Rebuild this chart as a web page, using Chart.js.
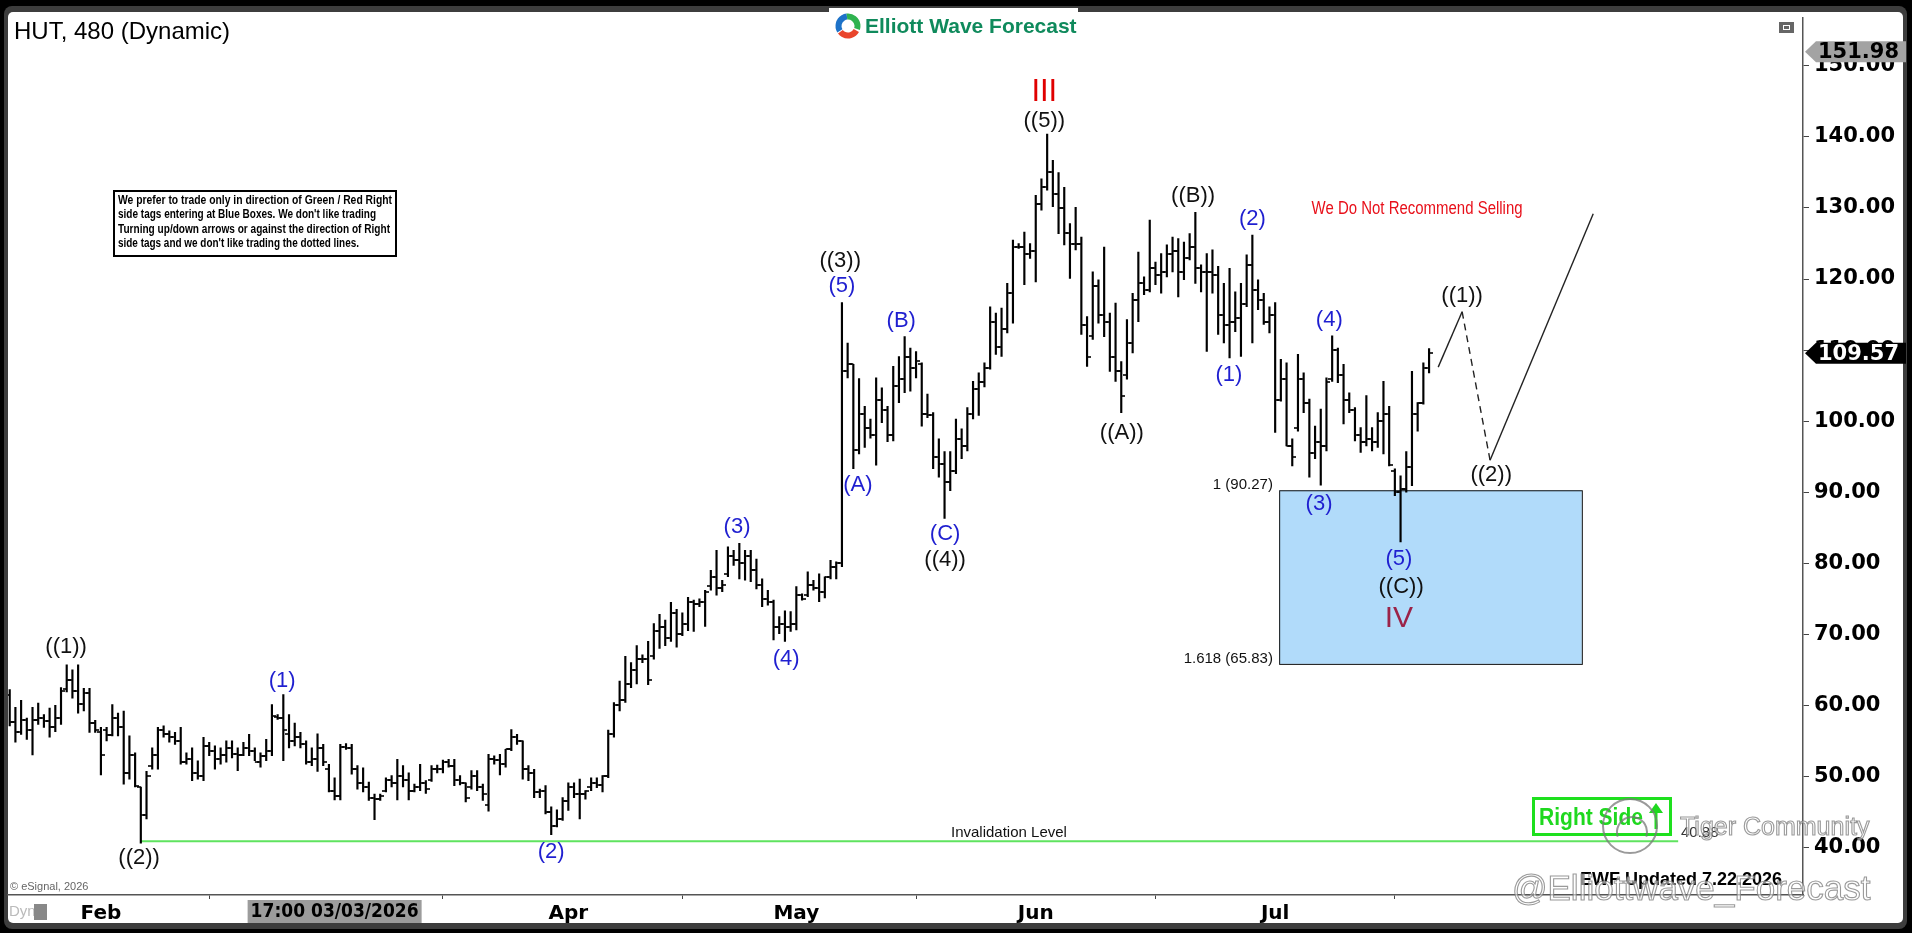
<!DOCTYPE html>
<html>
<head>
<meta charset="utf-8">
<title>HUT, 480 (Dynamic)</title>
<script src="https://cdn.jsdelivr.net/npm/chart.js@4.4.1/dist/chart.umd.min.js"></script>
<style>
  html, body { margin: 0; padding: 0; background: #000; overflow: hidden; }
  #wrap { width: 1912px; height: 933px; }
</style>
</head>
<body>
<div id="wrap"><canvas id="hutChart" width="1912" height="933"></canvas></div>
<script>
// HUT 480-minute bars (two per session), late January to 21 July 2026
const highs = [
  62.2, 59.7, 60.7, 58.2, 59.7, 60.3, 58.7, 59.6, 60.0, 62.5,
  65.7, 65.0, 65.7, 62.4, 62.4, 57.9, 56.9, 56.9, 60.1, 58.9,
  59.2, 55.7, 53.3, 48.5, 50.7, 54.0, 56.9, 57.1, 56.4, 56.2,
  56.9, 53.3, 54.0, 52.2, 55.5, 54.8, 54.3, 54.0, 55.0, 55.0,
  54.0, 54.8, 55.9, 54.0, 53.3, 55.2, 60.1, 58.7, 61.5, 58.7,
  57.5, 56.2, 55.0, 54.0, 56.0, 54.5, 51.7, 49.8, 54.5, 54.6,
  54.5, 51.5, 51.2, 49.2, 47.5, 47.5, 49.8, 50.1, 52.4, 51.5,
  50.5, 48.9, 51.7, 49.4, 51.5, 51.6, 52.3, 52.4, 52.4, 50.1,
  49.1, 50.8, 50.8, 48.9, 53.1, 52.9, 53.1, 53.8, 56.6, 55.9,
  55.0, 51.5, 51.0, 48.2, 48.7, 45.7, 45.3, 47.0, 49.1, 49.1,
  49.6, 48.0, 49.8, 49.8, 50.1, 56.5, 60.4, 63.4, 66.9, 66.0,
  68.4, 67.1, 69.0, 71.5, 72.8, 72.0, 74.5, 73.5, 73.0, 75.2,
  74.8, 75.0, 76.2, 79.0, 81.8, 77.6, 82.3, 81.8, 82.8, 81.8,
  81.8, 80.6, 77.8, 76.2, 74.8, 72.5, 73.3, 73.2, 76.7, 75.7,
  78.8, 77.6, 78.5, 78.1, 80.4, 80.2, 116.7, 111.0, 108.0, 106.0,
  102.1, 100.3, 106.1, 104.7, 102.1, 107.7, 109.1, 111.9, 110.3, 109.8,
  108.2, 103.8, 101.2, 97.5, 95.7, 95.7, 100.3, 98.9, 101.9, 105.6,
  106.8, 108.2, 116.1, 115.2, 115.9, 119.4, 125.5, 125.0, 126.6, 125.0,
  131.8, 134.1, 140.4, 136.7, 135.0, 132.9, 127.8, 130.1, 125.9, 114.7,
  121.0, 119.9, 124.5, 115.2, 116.6, 108.4, 114.3, 118.0, 123.8, 120.3,
  128.3, 122.4, 123.6, 124.8, 125.9, 125.7, 125.2, 126.4, 129.4, 122.0,
  123.6, 124.1, 121.8, 119.4, 121.5, 118.2, 119.4, 123.4, 126.2, 119.9,
  118.0, 116.1, 116.7, 108.7, 108.2, 97.5, 109.4, 106.8, 103.1, 99.3,
  101.7, 106.1, 112.0, 110.3, 108.0, 104.0, 101.9, 99.1, 103.6, 99.1,
  101.2, 105.6, 102.1, 93.3, 92.3, 95.7, 107.0, 102.6, 108.2, 110.2
];
const lows = [
  57.1, 54.8, 55.9, 55.2, 53.0, 57.3, 56.9, 55.5, 56.3, 57.3,
  61.9, 61.0, 58.9, 59.2, 56.2, 56.2, 50.2, 55.0, 55.7, 55.7,
  48.9, 49.6, 48.5, 40.6, 44.0, 51.0, 51.0, 55.5, 54.8, 54.5,
  51.7, 51.7, 49.4, 49.6, 49.4, 52.9, 51.0, 51.7, 52.0, 52.6,
  50.8, 52.9, 52.9, 52.2, 51.3, 52.2, 52.9, 58.0, 52.2, 54.0,
  54.3, 54.0, 51.7, 51.5, 50.7, 51.5, 47.8, 46.7, 46.7, 53.8,
  50.3, 48.2, 47.8, 46.6, 43.9, 46.6, 47.8, 48.5, 46.7, 48.5,
  46.7, 47.8, 48.0, 47.6, 49.3, 50.5, 50.5, 51.3, 48.7, 48.8,
  46.4, 48.2, 48.0, 46.6, 45.1, 51.7, 50.2, 51.3, 53.6, 54.5,
  49.6, 49.4, 47.0, 47.0, 44.7, 41.8, 42.9, 43.8, 45.2, 47.0,
  44.0, 46.8, 48.0, 48.4, 47.8, 49.8, 55.5, 59.2, 60.4, 62.5,
  63.0, 66.0, 62.9, 66.5, 68.0, 68.4, 69.0, 68.2, 69.8, 70.5,
  70.4, 73.9, 71.1, 76.2, 75.5, 76.0, 78.1, 79.7, 77.8, 77.6,
  77.4, 76.4, 73.9, 74.1, 69.2, 70.1, 69.0, 70.4, 70.6, 74.8,
  75.3, 76.2, 74.6, 75.1, 77.8, 77.8, 79.5, 106.1, 93.3, 95.4,
  96.3, 97.6, 93.8, 99.8, 97.1, 97.2, 102.6, 104.0, 104.2, 106.1,
  99.3, 100.5, 93.3, 92.1, 86.3, 90.2, 92.6, 94.7, 95.8, 100.3,
  100.8, 104.8, 107.3, 109.4, 109.1, 112.4, 113.8, 124.3, 119.2, 122.9,
  119.6, 129.7, 132.5, 130.2, 126.4, 124.8, 120.1, 124.1, 112.2, 107.7,
  111.5, 113.8, 111.9, 107.0, 105.6, 101.2, 105.9, 109.6, 114.0, 117.8,
  118.2, 119.2, 118.0, 120.3, 121.0, 117.5, 119.9, 122.7, 119.4, 118.2,
  109.8, 118.0, 112.2, 111.0, 108.9, 112.6, 109.1, 116.1, 111.0, 115.7,
  113.6, 112.4, 98.4, 102.8, 96.5, 93.7, 98.6, 101.2, 92.1, 94.7,
  91.0, 95.8, 105.6, 105.4, 99.6, 101.2, 97.2, 95.6, 96.5, 95.8,
  96.3, 95.4, 93.7, 89.5, 83.0, 90.0, 90.9, 98.6, 102.4, 106.8
];
const opens = [
  61.5, 57.6, 56.2, 58.0, 56.5, 58.0, 58.2, 57.8, 57.0, 58.2,
  62.3, 63.5, 62.0, 60.2, 61.8, 57.5, 56.2, 56.5, 55.8, 58.2,
  57.0, 50.5, 53.0, 48.5, 44.5, 51.5, 53.0, 56.5, 56.0, 55.5,
  55.0, 52.0, 52.5, 50.5, 50.0, 54.3, 53.5, 52.5, 53.0, 54.0,
  53.2, 53.0, 54.0, 53.5, 52.0, 52.8, 53.5, 58.3, 58.2, 56.0,
  55.0, 55.5, 54.5, 52.0, 52.5, 54.0, 51.0, 48.0, 47.2, 54.2,
  54.0, 51.0, 49.0, 48.5, 47.0, 46.8, 48.0, 49.5, 49.0, 50.0,
  49.5, 48.0, 48.5, 49.0, 49.5, 51.0, 51.0, 52.0, 51.5, 49.5,
  49.0, 48.5, 50.0, 48.5, 46.0, 52.5, 52.3, 51.8, 53.8, 55.5,
  55.0, 51.0, 50.5, 47.8, 48.0, 45.0, 43.0, 44.0, 46.5, 48.5,
  47.5, 47.5, 48.5, 49.0, 48.8, 50.0, 56.0, 60.0, 60.8, 63.0,
  65.0, 66.5, 66.5, 67.0, 70.5, 71.0, 69.5, 73.0, 70.0, 71.5,
  74.5, 74.2, 74.5, 76.8, 78.0, 76.5, 78.5, 81.0, 80.5, 80.0,
  81.0, 79.0, 77.0, 75.0, 74.5, 71.0, 71.5, 71.0, 71.5, 75.5,
  75.5, 77.0, 76.5, 76.0, 78.0, 79.5, 80.0, 107.0, 108.0, 96.0,
  101.0, 99.0, 98.0, 103.0, 101.5, 98.0, 105.0, 106.0, 109.0, 107.5,
  108.0, 101.0, 100.8, 95.0, 94.0, 91.5, 93.0, 97.5, 96.5, 101.0,
  104.5, 105.5, 107.5, 114.0, 110.5, 113.0, 118.0, 124.5, 124.5, 123.5,
  124.0, 130.5, 133.0, 135.0, 132.0, 130.0, 126.5, 125.0, 125.0, 113.5,
  112.0, 119.0, 115.0, 114.0, 109.0, 107.0, 106.5, 111.0, 117.0, 119.5,
  118.5, 121.5, 120.5, 121.0, 123.5, 124.0, 121.0, 123.0, 124.5, 121.5,
  121.0, 121.0, 120.5, 115.0, 113.5, 114.0, 114.5, 116.5, 122.0, 118.5,
  117.0, 114.0, 115.0, 103.0, 106.0, 96.5, 99.0, 106.0, 102.5, 95.5,
  97.0, 96.5, 106.0, 110.0, 106.5, 103.0, 101.5, 98.0, 97.0, 97.5,
  97.0, 100.0, 101.0, 93.0, 90.0, 90.5, 93.5, 101.0, 102.5, 107.5
];
const closes = [
  57.6, 56.2, 58.0, 56.5, 58.0, 58.2, 57.8, 57.0, 58.2, 62.0,
  63.5, 62.0, 60.2, 61.8, 57.5, 56.5, 53.0, 55.8, 58.2, 57.0,
  50.5, 53.0, 48.6, 44.5, 50.0, 53.0, 56.5, 56.0, 55.5, 55.0,
  52.0, 52.5, 50.5, 50.0, 54.3, 53.5, 52.5, 53.0, 54.0, 53.2,
  53.0, 54.0, 53.5, 52.0, 52.8, 53.5, 58.5, 58.2, 56.5, 55.0,
  55.5, 54.5, 52.0, 52.5, 54.0, 52.0, 48.0, 47.2, 54.2, 54.0,
  51.0, 49.0, 48.5, 47.0, 46.8, 47.2, 49.5, 49.0, 50.0, 49.5,
  48.0, 48.5, 49.0, 48.2, 51.0, 51.0, 52.0, 51.5, 49.5, 49.0,
  47.0, 50.0, 48.5, 47.5, 52.5, 52.3, 51.8, 53.8, 55.5, 55.0,
  51.0, 50.5, 47.8, 48.0, 45.0, 43.0, 44.0, 46.5, 48.5, 47.5,
  47.5, 48.0, 49.0, 48.8, 50.0, 56.0, 60.0, 60.8, 63.0, 65.0,
  66.5, 66.5, 63.5, 70.5, 71.0, 69.5, 73.0, 70.0, 71.5, 74.5,
  74.2, 74.5, 76.0, 78.0, 76.5, 77.0, 81.0, 80.5, 80.0, 81.0,
  79.0, 77.0, 75.0, 74.5, 71.0, 71.5, 71.0, 71.5, 75.5, 75.0,
  77.0, 76.5, 76.0, 78.0, 79.5, 80.0, 107.0, 108.0, 96.0, 101.0,
  99.0, 98.0, 103.0, 101.5, 98.0, 105.0, 106.0, 109.0, 107.5, 108.5,
  101.0, 100.8, 95.0, 94.0, 91.5, 93.0, 97.5, 96.5, 101.0, 104.5,
  105.5, 107.5, 114.0, 110.5, 113.0, 118.0, 124.5, 124.5, 123.5, 124.0,
  130.5, 133.0, 135.0, 132.0, 130.0, 126.5, 125.0, 125.0, 113.5, 109.0,
  119.0, 115.0, 114.0, 109.0, 107.0, 103.5, 111.0, 117.0, 119.5, 118.5,
  121.5, 120.5, 121.0, 123.5, 124.0, 121.0, 123.0, 124.5, 121.5, 121.0,
  121.0, 120.5, 115.0, 113.5, 114.0, 114.5, 116.5, 122.0, 118.5, 117.0,
  114.0, 115.0, 103.0, 106.0, 96.5, 95.0, 106.0, 102.5, 95.5, 97.0,
  96.5, 105.5, 110.0, 106.5, 103.0, 101.5, 98.0, 97.0, 97.5, 97.0,
  100.0, 101.0, 93.8, 90.0, 90.5, 93.5, 101.0, 102.5, 107.5, 109.57
];

// x axis: bar index of the first bar of each month
const monthStarts = [16, 54, 98, 138, 180, 222];
const monthNames = ['Feb', 'Mar', 'Apr', 'May', 'Jun', 'Jul'];
const priceTicks = [40, 50, 60, 70, 80, 90, 100, 110, 120, 130, 140, 150];

// levels drawn on the chart
const invalidationLevel = 40.88;
const fibTop = 90.27;
const fibBottom = 65.83;
const lastPrice = 109.57;
const topTag = 151.98;
const crosshairBar = 57;

// projected path ((1)) up, ((2)) down, then up
const projX = [250.6, 254.8, 259.7, 277.8];
const projY = [107.6, 115.4, 94.5, 129.2];

// wave labels: text, bar index, price, style
const waveLabels = [
  ['((1))', 9.9, 68.2, 'k'], ['((2))', 22.7, 38.5, 'k'],
  ['(1)', 47.8, 63.4, 'b'], ['(2)', 95.0, 39.3, 'b'],
  ['(3)', 127.6, 85.1, 'b'], ['(4)', 136.2, 66.5, 'b'],
  ['((3))', 145.7, 122.6, 'k'], ['(5)', 146.0, 119.0, 'b'],
  ['(A)', 148.8, 91.0, 'b'], ['(B)', 156.4, 114.1, 'b'],
  ['(C)', 164.1, 84.1, 'b'], ['((4))', 164.1, 80.5, 'k'],
  ['III', 181.5, 146.3, 'III'], ['((5))', 181.5, 142.2, 'k'],
  ['((A))', 195.1, 98.3, 'k'], ['((B))', 207.6, 131.7, 'k'],
  ['(1)', 213.9, 106.5, 'b'], ['(2)', 218.0, 128.4, 'b'],
  ['(3)', 229.7, 88.3, 'b'], ['(4)', 231.5, 114.2, 'b'],
  ['(5)', 243.7, 80.6, 'b'], ['((C))', 244.1, 76.7, 'k'],
  ['IV', 243.7, 72.2, 'IV'],
  ['((1))', 254.8, 117.6, 'k'], ['((2))', 259.9, 92.4, 'k']
];
const labelStyles = {
  k: { color: '#111', font: '22px "Liberation Sans", Arial, sans-serif' },
  b: { color: '#1f1fd0', font: '22px "Liberation Sans", Arial, sans-serif' },
  III: { color: '#e00000', font: '31px "Liberation Sans", Arial, sans-serif' },
  IV: { color: '#9b2348', font: '30px "Liberation Sans", Arial, sans-serif' }
};

const boxStart = 222.7;
const boxEnd = 275.8;
const invStart = 23;
const invEnd = 292.7;

const sans = '"Liberation Sans", Arial, sans-serif';
const axisFont = '"DejaVu Sans", Verdana, sans-serif';

function tickImage(side) {
  const c = document.createElement('canvas');
  c.width = 8; c.height = 2;
  const g = c.getContext('2d');
  g.fillStyle = '#000';
  g.fillRect(side === 'left' ? 0 : 4, 0.2, 4, 1.6);
  return c;
}

const framePlugin = {
  id: 'frame',
  beforeDraw(chart) {
    const c = chart.ctx;
    c.save();
    c.fillStyle = '#000';
    c.fillRect(0, 0, chart.width, chart.height);
    c.fillStyle = '#3d3d3d';
    c.beginPath(); c.roundRect(4, 6, 1903, 923, 8); c.fill();
    c.fillStyle = '#fff';
    c.beginPath(); c.roundRect(8, 12, 1895, 911, 5); c.fill();
    c.restore();
  }
};

const boxPlugin = {
  id: 'fibBox',
  beforeDatasetsDraw(chart) {
    const { x, y } = chart.scales;
    const c = chart.ctx;
    const x0 = x.getPixelForValue(boxStart), x1 = x.getPixelForValue(boxEnd);
    const y0 = y.getPixelForValue(fibTop), y1 = y.getPixelForValue(fibBottom);
    c.save();
    c.fillStyle = '#b1dbfa';
    c.fillRect(x0, y0, x1 - x0, y1 - y0);
    c.strokeStyle = '#111';
    c.lineWidth = 1;
    c.strokeRect(x0 + 0.5, y0 + 0.5, x1 - x0, y1 - y0);
    c.restore();
  }
};

const labelPlugin = {
  id: 'waveText',
  afterDatasetsDraw(chart) {
    const { x, y } = chart.scales;
    const c = chart.ctx;
    c.save();
    c.textAlign = 'center';
    c.textBaseline = 'middle';
    waveLabels.forEach(([t, i, v, s]) => {
      c.fillStyle = labelStyles[s].color;
      c.font = labelStyles[s].font;
      c.fillText(t, x.getPixelForValue(i), y.getPixelForValue(v));
    });

    // fib levels
    c.font = '15px ' + sans;
    c.fillStyle = '#111';
    c.textAlign = 'right';
    c.fillText('1 (90.27)', x.getPixelForValue(221.6), y.getPixelForValue(91.0));
    c.fillText('1.618 (65.83)', x.getPixelForValue(221.6), y.getPixelForValue(66.6));

    // invalidation
    c.textAlign = 'center';
    c.font = '15px ' + sans;
    c.fillText('Invalidation Level', x.getPixelForValue(175.3), y.getPixelForValue(42.1));
    c.textAlign = 'left';
    c.fillStyle = '#333';
    c.fillText('40.88', x.getPixelForValue(293.2), y.getPixelForValue(42.0));

    c.textAlign = 'center';
    c.fillStyle = '#e8101a';
    c.font = '18px ' + sans;
    c.fillText('We Do Not Recommend Selling', x.getPixelForValue(246.9), y.getPixelForValue(129.8), 211);

    // header
    c.textAlign = 'left';
    c.fillStyle = '#000';
    c.font = '24px ' + sans;
    c.fillText('HUT, 480 (Dynamic)', 14, 32);

    // logo
    c.fillStyle = '#fff';
    c.fillRect(829, 8, 249, 36);
    const cx = 848, cy = 26;
    c.lineWidth = 6;
    [['#1d72c8', 2.6, 4.6], ['#2fb34f', 4.6, 6.6], ['#e9452c', 0.5, 2.5]].forEach(([col, a0, a1]) => {
      c.strokeStyle = col;
      c.beginPath(); c.arc(cx, cy, 9.5, a0, a1); c.stroke();
    });
    c.fillStyle = '#0f8a5c';
    c.font = 'bold 21px ' + sans;
    c.fillText('Elliott Wave Forecast', 865, 27);

    // notice box
    c.lineWidth = 2;
    c.strokeStyle = '#000';
    c.fillStyle = '#fff';
    c.fillRect(114, 191, 282, 65);
    c.strokeRect(114, 191, 282, 65);
    c.fillStyle = '#000';
    c.font = 'bold 12px ' + sans;
    c.fillText('We prefer to trade only in direction of Green / Red Right', 118, 201, 274);
    c.fillText("side tags entering at Blue Boxes. We don't like trading", 118, 215, 258);
    c.fillText('Turning up/down arrows or against the direction of Right', 118, 230, 272);
    c.fillText("side tags and we don't like trading the dotted lines.", 118, 244, 241);

    // right side tag
    c.strokeStyle = '#1ee01e';
    c.lineWidth = 3;
    c.strokeRect(1533.5, 798.5, 137, 36);
    c.fillStyle = '#1fd81f';
    c.font = 'bold 24px ' + sans;
    c.fillText('Right Side', 1539, 818, 104);
    c.beginPath();
    c.moveTo(1656, 829); c.lineTo(1656, 808);
    c.stroke();
    c.beginPath();
    c.moveTo(1649, 813); c.lineTo(1656, 803); c.lineTo(1663, 813); c.closePath();
    c.fill();
    c.restore();
  }
};

const overlayPlugin = {
  id: 'overlay',
  afterDraw(chart) {
    const { x, y } = chart.scales;
    const c = chart.ctx;
    c.save();

    // price tags on the axis
    const tag = (v, bg, fg) => {
      const py = y.getPixelForValue(v);
      c.fillStyle = bg;
      c.beginPath();
      c.moveTo(1805, py);
      c.lineTo(1816, py - 10.5);
      c.lineTo(1906, py - 10.5);
      c.lineTo(1906, py + 10.5);
      c.lineTo(1816, py + 10.5);
      c.closePath();
      c.fill();
      c.fillStyle = fg;
      c.font = 'bold 21px ' + axisFont;
      c.textAlign = 'left';
      c.textBaseline = 'middle';
      c.fillText(v.toFixed(2), 1818, py + 1);
    };
    tag(topTag, '#a3a3a3', '#000');
    tag(lastPrice, '#000', '#fff');

    // crosshair date label
    const px = x.getPixelForValue(crosshairBar);
    c.fillStyle = '#9c9c9c';
    c.fillRect(px - 87, 900, 174, 23);
    c.fillStyle = '#000';
    c.font = 'bold 20px ' + axisFont;
    c.textAlign = 'center';
    c.textBaseline = 'middle';
    c.fillText('17:00 03/03/2026', px, 912, 168);

    // small furniture
    c.textAlign = 'left';
    c.fillStyle = '#666';
    c.font = '11px ' + sans;
    c.fillText('\u00a9 eSignal, 2026', 10, 887);
    c.fillStyle = '#bbb';
    c.font = '15px ' + sans;
    c.fillText('Dyn', 9, 912);
    c.fillStyle = '#888';
    c.fillRect(34, 904, 13, 16);
    c.fillStyle = '#666';
    c.fillRect(1779, 22, 15, 11);
    c.strokeStyle = '#fff';
    c.lineWidth = 1;
    c.strokeRect(1783.5, 25.5, 6, 4);

    // update stamp
    c.fillStyle = '#000';
    c.font = 'bold 18px ' + sans;
    c.fillText('EWF Updated 7.22.2026', 1580, 880, 211);

    // watermarks
    c.strokeStyle = 'rgba(120,120,120,0.75)';
    c.fillStyle = 'rgba(255,255,255,0.55)';
    c.lineWidth = 2;
    c.beginPath(); c.arc(1630, 826, 27, 0, Math.PI * 2); c.stroke();
    c.beginPath(); c.arc(1632, 832, 15, Math.PI * 0.9, Math.PI * 2.1); c.stroke();
    c.lineWidth = 1.1;
    c.font = '25px ' + sans;
    c.fillText('Tiger Community', 1680, 828);
    c.strokeText('Tiger Community', 1680, 828);
    c.font = '35px ' + sans;
    c.fillText('@Elliottwave_Forecast', 1512, 890);
    c.strokeText('@Elliottwave_Forecast', 1512, 890);
    c.restore();
  }
};

const ctx = document.getElementById('hutChart').getContext('2d');
const hutChart = new Chart(ctx, {
  type: 'bar',
  data: {
    datasets: [
      {
        type: 'bar',
        label: 'HUT',
        data: highs.map((h, i) => ({ x: i, y: [lows[i], h] })),
        backgroundColor: '#000',
        borderWidth: 0,
        barThickness: 1.5,
        order: 2
      },
      {
        type: 'scatter',
        label: 'Open',
        data: opens.map((v, i) => ({ x: i, y: v })),
        pointStyle: tickImage('left'),
        pointRadius: 4,
        order: 1
      },
      {
        type: 'scatter',
        label: 'Close',
        data: closes.map((v, i) => ({ x: i, y: v })),
        pointStyle: tickImage('right'),
        pointRadius: 4,
        order: 1
      },
      {
        type: 'line',
        label: 'Invalidation',
        data: [{ x: invStart, y: invalidationLevel }, { x: invEnd, y: invalidationLevel }],
        borderColor: '#5fe35f',
        borderWidth: 2,
        pointRadius: 0,
        order: 3
      },
      {
        type: 'line',
        label: 'Projection',
        data: projX.map((v, i) => ({ x: v, y: projY[i] })),
        borderColor: '#222',
        borderWidth: 1.4,
        pointRadius: 0,
        tension: 0,
        segment: { borderDash: s => (s.p0DataIndex === 1 ? [7, 5] : undefined) },
        order: 0
      }
    ]
  },
  options: {
    responsive: false,
    devicePixelRatio: 1,
    animation: false,
    events: [],
    layout: { padding: { left: 8, top: 13, right: 9, bottom: 10 } },
    plugins: { legend: { display: false }, tooltip: { enabled: false } },
    scales: {
      x: {
        type: 'linear',
        min: -0.3,
        max: 314.6,
        offset: false,
        afterBuildTicks: s => { s.ticks = monthStarts.map(v => ({ value: v })); },
        afterFit: s => { s.height = 28; },
        ticks: {
          autoSkip: false,
          maxRotation: 0,
          padding: 3,
          color: '#000',
          font: { family: axisFont, size: 20, weight: 'bold' },
          callback: v => monthNames[monthStarts.indexOf(v)] || ''
        },
        grid: { drawOnChartArea: false, tickLength: 4, color: '#444' },
        border: { color: '#555', width: 1.5 }
      },
      y: {
        position: 'right',
        min: 33.3,
        max: 156.8,
        afterBuildTicks: s => { s.ticks = priceTicks.map(v => ({ value: v })); },
        afterFit: s => { s.width = 100; },
        ticks: {
          padding: 5,
          color: '#000',
          font: { family: axisFont, size: 21, weight: 'bold' },
          callback: v => Number(v).toFixed(2)
        },
        grid: { drawOnChartArea: false, tickLength: 6, color: '#444' },
        border: { color: '#555', width: 1.5 }
      }
    }
  },
  plugins: [framePlugin, boxPlugin, labelPlugin, overlayPlugin]
});
</script>
</body>
</html>
